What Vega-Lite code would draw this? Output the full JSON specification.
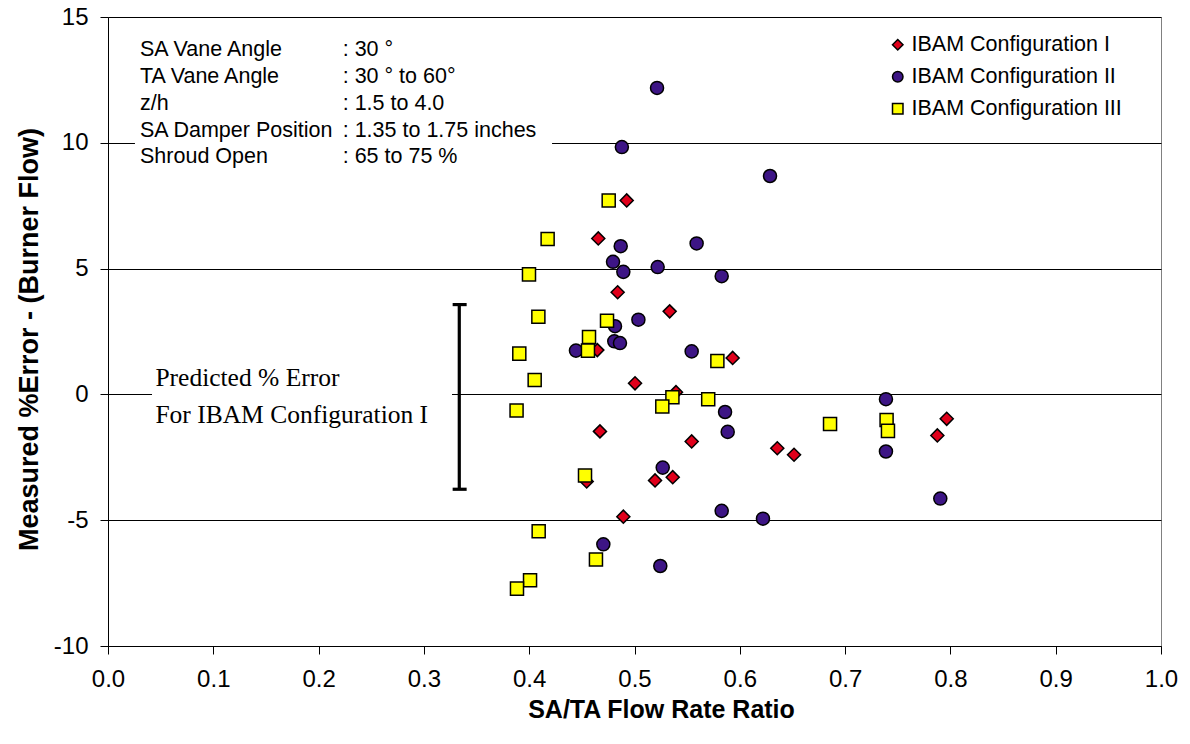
{
  "$schema": "https://vega.github.io/schema/vega-lite/v6.json",
  "width": 1053,
  "height": 629,
  "autosize": {"type": "none"},
  "padding": {"left": 108, "top": 17, "right": 29, "bottom": 98},
  "background": "white",
  "config": {
    "view": {"stroke": "#808080", "strokeWidth": 1},
    "font": "Liberation Sans"
  },
  "encoding": {
    "x": {
      "field": "x", "type": "quantitative",
      "scale": {"domain": [0, 1], "nice": false, "zero": false},
      "axis": {
        "title": "SA/TA Flow Rate Ratio",
        "values": [0, 0.1, 0.2, 0.3, 0.4, 0.5, 0.6, 0.7, 0.8, 0.9, 1.0],
        "format": ".1f", "grid": false,
        "domainColor": "black", "tickColor": "black", "tickSize": 8,
        "labelFont": "Liberation Sans", "labelFontSize": 24, "labelColor": "black", "labelPadding": 13,
        "labelFlush": false, "labelOverlap": false,
        "titleFont": "Liberation Sans", "titleFontSize": 25, "titleFontWeight": "bold", "titleColor": "black",
        "titleX": 553, "titlePadding": 6
      }
    },
    "y": {
      "field": "y", "type": "quantitative",
      "scale": {"domain": [-10, 15], "nice": false, "zero": false},
      "axis": {
        "title": "Measured %Error - (Burner Flow)",
        "values": [-10, -5, 0, 5, 10, 15],
        "labelExpr": "replace(datum.label, '\u2212', '-')",
        "grid": true, "gridColor": "black", "gridOpacity": 1, "gridWidth": 1,
        "domainColor": "black", "tickColor": "black", "tickSize": 8,
        "labelFont": "Liberation Sans", "labelFontSize": 24, "labelColor": "black", "labelPadding": 12,
        "labelFlush": false, "labelOverlap": false,
        "titleFont": "Liberation Sans", "titleFontSize": 27, "titleFontWeight": "bold", "titleColor": "black", "titlePadding": 10,
        "titleY": 322
      }
    }
  },
  "layer": [
    {
      "data": {"values": [
        {"x": 0.0256, "x2": 0.4217, "y": 9.0, "y2": 14.5},
        {"x": 0.0418, "x2": 0.3267, "y": -1.4, "y2": 1.4}
      ]},
      "mark": {"type": "rect", "fill": "white", "stroke": null},
      "encoding": {"x2": {"field": "x2"}, "y2": {"field": "y2"}}
    },
    {
      "data": {"values": [
        {"x": 0.0304, "y": 13.46, "t": "SA Vane Angle"},
        {"x": 0.0304, "y": 12.39, "t": "TA Vane Angle"},
        {"x": 0.0304, "y": 11.32, "t": "z/h"},
        {"x": 0.0304, "y": 10.25, "t": "SA Damper Position"},
        {"x": 0.0304, "y": 9.18, "t": "Shroud Open"},
        {"x": 0.2229, "y": 13.46, "t": ": 30 °"},
        {"x": 0.2229, "y": 12.39, "t": ": 30 ° to 60°"},
        {"x": 0.2229, "y": 11.32, "t": ": 1.5 to 4.0"},
        {"x": 0.2229, "y": 10.25, "t": ": 1.35 to 1.75 inches"},
        {"x": 0.2229, "y": 9.18, "t": ": 65 to 75 %"}
      ]},
      "mark": {"type": "text", "align": "left", "baseline": "alphabetic", "font": "Liberation Sans", "fontSize": 21.5, "color": "black"},
      "encoding": {"text": {"field": "t"}}
    },
    {
      "data": {"values": [
        {"x": 0.045, "y": 0.32, "t": "Predicted % Error"},
        {"x": 0.045, "y": -1.14, "t": "For IBAM Configuration I"}
      ]},
      "mark": {"type": "text", "align": "left", "baseline": "alphabetic", "font": "Liberation Serif", "fontSize": 25.5, "color": "black"},
      "encoding": {"text": {"field": "t"}}
    },
    {
      "data": {"values": [
        {"x": 0.3336, "x2": 0.3336, "y": -3.77, "y2": 3.57},
        {"x": 0.3273, "x2": 0.3406, "y": 3.57, "y2": 3.57},
        {"x": 0.3273, "x2": 0.3406, "y": -3.77, "y2": -3.77}
      ]},
      "mark": {"type": "rule", "color": "black", "strokeWidth": 3.2},
      "encoding": {"x2": {"field": "x2"}, "y2": {"field": "y2"}}
    },
    {
      "data": {"values": [
        {"c": "IBAM Configuration I", "x": 0.4926, "y": 7.71},
        {"c": "IBAM Configuration I", "x": 0.4656, "y": 6.20},
        {"c": "IBAM Configuration I", "x": 0.4840, "y": 4.06},
        {"c": "IBAM Configuration I", "x": 0.5334, "y": 3.30},
        {"c": "IBAM Configuration I", "x": 0.4647, "y": 1.76},
        {"c": "IBAM Configuration I", "x": 0.5005, "y": 0.44},
        {"c": "IBAM Configuration I", "x": 0.5932, "y": 1.45},
        {"c": "IBAM Configuration I", "x": 0.5394, "y": 0.09},
        {"c": "IBAM Configuration I", "x": 0.4672, "y": -1.47},
        {"c": "IBAM Configuration I", "x": 0.5195, "y": -3.42},
        {"c": "IBAM Configuration I", "x": 0.5363, "y": -3.29},
        {"c": "IBAM Configuration I", "x": 0.4546, "y": -3.46},
        {"c": "IBAM Configuration I", "x": 0.4894, "y": -4.86},
        {"c": "IBAM Configuration I", "x": 0.5543, "y": -1.87},
        {"c": "IBAM Configuration I", "x": 0.6356, "y": -2.14},
        {"c": "IBAM Configuration I", "x": 0.6515, "y": -2.40},
        {"c": "IBAM Configuration I", "x": 0.7965, "y": -0.97},
        {"c": "IBAM Configuration I", "x": 0.7876, "y": -1.63},
        {"c": "IBAM Configuration II", "x": 0.5214, "y": 12.18},
        {"c": "IBAM Configuration II", "x": 0.4880, "y": 9.83},
        {"c": "IBAM Configuration II", "x": 0.6287, "y": 8.68},
        {"c": "IBAM Configuration II", "x": 0.5590, "y": 6.00},
        {"c": "IBAM Configuration II", "x": 0.4869, "y": 5.89},
        {"c": "IBAM Configuration II", "x": 0.4796, "y": 5.27},
        {"c": "IBAM Configuration II", "x": 0.4894, "y": 4.87},
        {"c": "IBAM Configuration II", "x": 0.5220, "y": 5.06},
        {"c": "IBAM Configuration II", "x": 0.5828, "y": 4.70},
        {"c": "IBAM Configuration II", "x": 0.5037, "y": 2.97},
        {"c": "IBAM Configuration II", "x": 0.4815, "y": 2.71},
        {"c": "IBAM Configuration II", "x": 0.4808, "y": 2.11},
        {"c": "IBAM Configuration II", "x": 0.4862, "y": 2.04},
        {"c": "IBAM Configuration II", "x": 0.4444, "y": 1.74},
        {"c": "IBAM Configuration II", "x": 0.5543, "y": 1.71},
        {"c": "IBAM Configuration II", "x": 0.5860, "y": -0.70},
        {"c": "IBAM Configuration II", "x": 0.5885, "y": -1.49},
        {"c": "IBAM Configuration II", "x": 0.5268, "y": -2.91},
        {"c": "IBAM Configuration II", "x": 0.4704, "y": -5.96},
        {"c": "IBAM Configuration II", "x": 0.5245, "y": -6.82},
        {"c": "IBAM Configuration II", "x": 0.7388, "y": -0.19},
        {"c": "IBAM Configuration II", "x": 0.7388, "y": -2.27},
        {"c": "IBAM Configuration II", "x": 0.7904, "y": -4.14},
        {"c": "IBAM Configuration II", "x": 0.5828, "y": -4.63},
        {"c": "IBAM Configuration II", "x": 0.6220, "y": -4.94},
        {"c": "IBAM Configuration III", "x": 0.4755, "y": 7.71},
        {"c": "IBAM Configuration III", "x": 0.4175, "y": 6.18},
        {"c": "IBAM Configuration III", "x": 0.3998, "y": 4.77},
        {"c": "IBAM Configuration III", "x": 0.4087, "y": 3.09},
        {"c": "IBAM Configuration III", "x": 0.4739, "y": 2.93},
        {"c": "IBAM Configuration III", "x": 0.4568, "y": 2.28},
        {"c": "IBAM Configuration III", "x": 0.4558, "y": 1.74},
        {"c": "IBAM Configuration III", "x": 0.3906, "y": 1.62},
        {"c": "IBAM Configuration III", "x": 0.4052, "y": 0.57},
        {"c": "IBAM Configuration III", "x": 0.5787, "y": 1.33},
        {"c": "IBAM Configuration III", "x": 0.5360, "y": -0.11},
        {"c": "IBAM Configuration III", "x": 0.5264, "y": -0.48},
        {"c": "IBAM Configuration III", "x": 0.5700, "y": -0.19},
        {"c": "IBAM Configuration III", "x": 0.3880, "y": -0.64},
        {"c": "IBAM Configuration III", "x": 0.4530, "y": -3.22},
        {"c": "IBAM Configuration III", "x": 0.4090, "y": -5.44},
        {"c": "IBAM Configuration III", "x": 0.4634, "y": -6.56},
        {"c": "IBAM Configuration III", "x": 0.4008, "y": -7.39},
        {"c": "IBAM Configuration III", "x": 0.3884, "y": -7.72},
        {"c": "IBAM Configuration III", "x": 0.6857, "y": -1.18},
        {"c": "IBAM Configuration III", "x": 0.7394, "y": -1.02},
        {"c": "IBAM Configuration III", "x": 0.7407, "y": -1.45}
      ]},
      "mark": {"type": "point", "filled": true, "opacity": 1, "stroke": "black", "strokeWidth": 1.5, "size": 170},
      "encoding": {
        "shape": {
          "field": "c", "type": "nominal",
          "scale": {"domain": ["IBAM Configuration I", "IBAM Configuration II", "IBAM Configuration III"], "range": ["diamond", "circle", "square"]},
          "legend": null
        },
        "color": {
          "field": "c", "type": "nominal",
          "scale": {"domain": ["IBAM Configuration I", "IBAM Configuration II", "IBAM Configuration III"], "range": ["#E0001B", "#3D1585", "#FFFF00"]},
          "legend": {
            "title": null, "orient": "none", "legendX": 779, "legendY": 17,
            "labelFont": "Liberation Sans", "labelFontSize": 21.5, "labelColor": "black", "labelLimit": 0,
            "symbolSize": 110, "symbolStrokeColor": "black", "symbolStrokeWidth": 1.5, "symbolOpacity": 1,
            "rowPadding": 9, "labelOffset": 3
          }
        }
      }
    }
  ]
}
